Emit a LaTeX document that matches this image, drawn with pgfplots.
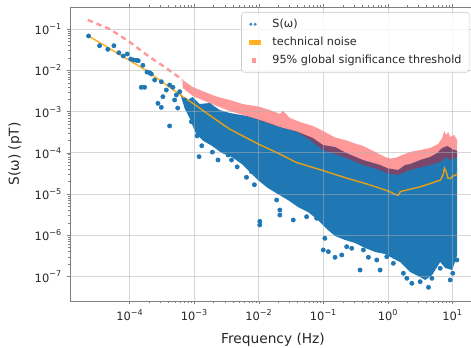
\documentclass[border=0pt]{standalone}
\usepackage{fontspec}
\setmainfont{DejaVu Sans}
\usepackage{pgfplots}
\pgfplotsset{compat=1.18}
\definecolor{mplblue}{HTML}{1F77B4}
\definecolor{mplorange}{HTML}{FFA500}
\definecolor{gridgray}{HTML}{B0B0B0}
\begin{document}
\begin{tikzpicture}
\begin{axis}[
  scale only axis, width=304.5pt, height=220.5pt,
  xmode=log, ymode=log,
  xmin=1.18e-5, xmax=23.1, ymin=2.57e-8, ymax=0.3475,
  xtick={1e-4,1e-3,1e-2,1e-1,1,10},
  xticklabels={10\textsuperscript{−4},10\textsuperscript{−3},10\textsuperscript{−2},10\textsuperscript{−1},10\textsuperscript{0},10\textsuperscript{1}},
  ytick={1e-7,1e-6,1e-5,1e-4,1e-3,1e-2,1e-1},
  yticklabels={10\textsuperscript{−7},10\textsuperscript{−6},10\textsuperscript{−5},10\textsuperscript{−4},10\textsuperscript{−3},10\textsuperscript{−2},10\textsuperscript{−1}},
  tick align=outside,
  major tick length=2.6pt, minor tick length=1.5pt,
  every tick/.style={black!50, line width=0.6pt},
  axis line style={black!50, line width=0.6pt},
  grid=major,
  major grid style={gridgray, opacity=0.5, line width=0.75pt},
  axis on top,
  ticklabel style={font=\fontsize{8.6}{10}\selectfont, text=black!85},
  label style={font=\fontsize{10.3}{12}\selectfont, text=black!85},
  xlabel={Frequency (Hz)}, ylabel={S(ω) (pT)},
  xlabel style={at={(axis description cs:0.5,-0.1327)}, anchor=center},
  ylabel style={at={(axis description cs:-0.1355,0.5)}, anchor=center},
  legend cell align=left,
  legend style={at={(1,1)}, anchor=north east, xshift=-5pt, yshift=-3.75pt,
    draw=black!20, rounded corners=2pt, fill=white, fill opacity=0.8, text opacity=1,
    font=\fontsize{8.4}{10}\selectfont, text=black!85,
    inner xsep=3.7pt, inner ysep=2.25pt,
    nodes={inner xsep=2pt, inner ysep=2.55pt, text height=6.4pt, text depth=2pt}},
]
% dense part of S(omega)
\addplot[draw=none, fill=mplblue, forget plot] coordinates {
(5.91e-4,3.01e-3) (7.33e-4,1.82e-3) (9.42e-4,2.28e-3) (1.21e-3,1.54e-3) (1.73e-3,1.63e-3)
(2.47e-3,1.1e-3) (3.53e-3,9.33e-4) (6.49e-3,7.89e-4) (1.15e-2,5.97e-4) (2.11e-2,4.27e-4)
(3.87e-2,3.32e-4) (6.87e-2,2.31e-4) (9.82e-2,1.56e-4) (0.151,1.4e-4) (0.232,9.8e-5)
(0.41,6.76e-5) (0.754,5.12e-5) (0.982,4.26e-5) (1.44,3.87e-5) (1.84,5.12e-5) (2.2,5.4e-5)
(3.15,6.76e-5) (4.5,8.0e-5) (5.8,1.0e-4) (6.92,1.32e-4) (8.28,1.48e-4) (9.9,1.25e-4) (11.8,1.12e-4)
(11.8,3.36e-7) (9.9,1.45e-7) (7.7,1.62e-7) (6.44,2.27e-7) (4.84,1.1e-7) (3.77,8.3e-8)
(2.93,1.04e-7) (2.2,1.3e-7) (1.54,2.27e-7) (1.16,2.84e-7) (0.902,3.55e-7) (0.631,3.97e-7)
(0.441,4.97e-7) (0.308,6.56e-7) (0.216,7.76e-7) (0.151,9.7e-7) (0.117,1.36e-6) (8.22e-2,2.37e-6)
(5.74e-2,3.71e-6) (4.02e-2,4.9e-6) (2.81e-2,7.24e-6) (1.96e-2,1.01e-5) (1.37e-2,1.42e-5)
(9.61e-3,2.21e-5) (7.23e-3,3.46e-5) (5.42e-3,5.4e-5) (3.79e-3,8.0e-5) (2.65e-3,1.0e-4)
(1.86e-3,1.5e-4) (1.35e-3,2.0e-4) (1.05e-3,3.0e-4) (8.45e-4,7.0e-4) (7.06e-4,1.2e-3)
};
% sparse points of S(omega)
\addplot[only marks, mark=*, mark size=1.6pt, color=mplblue,
  legend image code/.code={\path[draw=none,fill=none] (0pt,-2pt) rectangle (17.55pt,2pt);
    \fill[mplblue, draw=none] (3.4pt,0pt) circle (1.3pt); \fill[mplblue, draw=none] (6.6pt,0pt) circle (1.3pt);}]
coordinates {
(2.29e-5,6.89e-2) (3.39e-5,4.0e-2) (4.55e-5,3.27e-2) (5.65e-5,4.0e-2) (6.75e-5,2.7e-2)
(7.9e-5,2.25e-2) (9.1e-5,2.52e-2) (1.03e-4,1.9e-2) (1.14e-4,1.8e-2) (1.26e-4,1.77e-2)
(1.35e-4,1.73e-2) (1.59e-4,1.34e-2) (1.84e-4,9.2e-3) (2.02e-4,8.85e-3) (1.5e-4,3.92e-3)
(1.69e-4,3.92e-3) (2.15e-4,8.24e-3) (2.42e-4,5.89e-3) (2.72e-4,1.6e-3) (3.07e-4,1.28e-3)
(3.07e-4,5.36e-3) (3.25e-4,2.32e-3) (3.67e-4,3.37e-3) (4.13e-4,4.46e-3) (4.65e-4,3.92e-3)
(5.25e-4,2.55e-3) (5.91e-4,3.07e-3) (4.13e-4,4.52e-4) (4.94e-4,1.93e-3) (5.51e-4,1.23e-3)
(7.08e-4,1.93e-3) (8.98e-4,5.74e-4) (1.18e-3,8.13e-5) (1.57e-3,2.15e-4) (2.32e-3,1.88e-4)
(2.62e-3,1.37e-4) (2.32e-3,6.76e-5) (3.76e-3,6.76e-5) (3.33e-3,8.93e-5) (6.41e-3,2.57e-5)
(7.67e-3,3.52e-5) (1.03e-2,2.2e-6) (1.03e-2,1.8e-6) (1.88e-2,7.24e-6) (2.11e-2,4.14e-6)
(2.11e-2,3.13e-6) (3.4e-2,2.37e-6) (5.48e-2,2.85e-6) (7.84e-2,2.61e-6) (0.105,8.53e-7)
(9.93e-2,4.44e-7) (0.119,4.04e-7) (0.151,2.95e-7) (0.192,3.36e-7) (0.229,5.33e-7)
(0.274,4.88e-7) (0.369,1.45e-7) (0.415,4.44e-7) (0.497,2.95e-7) (0.67,2.54e-7)
(0.754,1.45e-7) (0.957,3.05e-7) (1.21,2.11e-7) (1.73,1.21e-7) (1.96,9.14e-8)
(2.34,6.91e-8) (3.15,7.55e-8) (4.24,5.52e-8) (4.79,9.14e-8) (6.44,1.6e-7)
(9.2,8.3e-8) (10.1,1.21e-7) (11.7,2.54e-7)
(1.1e-3,2.6e-4) (1.3e-3,1.5e-4) (1.9e-3,1.05e-4) (4.6e-3,4.6e-5) (8.5e-3,1.7e-5)
};
\addlegendentry{S(ω)}
% technical noise
\addplot[mplorange, opacity=0.85, line width=1.1pt,
  legend image code/.code={\path[draw=none,fill=none] (0pt,-2pt) rectangle (17.55pt,2pt);
    \fill[mplorange, draw=none, sharp corners] (2.3pt,-1.9pt) rectangle (11.05pt,1.9pt);}]
coordinates {
(2.29e-5,6.89e-2) (1.8e-4,1.0e-2) (5.89e-4,2.63e-3) (1.0e-3,1.51e-3) (1.95e-3,7.16e-4)
(3.55e-3,3.76e-4) (1.0e-2,1.62e-4) (2.14e-2,9.33e-5) (3.8e-2,5.89e-5) (0.1,3.72e-5)
(0.229,2.45e-5) (0.468,1.78e-5) (1.0,1.2e-5) (1.3,9.8e-6) (1.45,9.5e-6) (1.55,1.15e-5)
(1.7,1.2e-5) (3.16,1.51e-5) (6.46,2.19e-5) (7.08,2.82e-5) (7.5,4.27e-5) (7.94,3.55e-5)
(8.5,2.45e-5) (9.3,2.4e-5) (10,2.75e-5) (11,2.88e-5) (11.9,3.16e-5)
};
\addlegendentry{technical noise}
% threshold, low frequencies
\addplot[red, opacity=0.4, line width=1.8pt, dash pattern=on 4pt off 3pt, forget plot]
coordinates {
(2.23e-5,1.68e-1) (4.84e-5,1.02e-1) (9.9e-5,4.92e-2) (2.02e-4,2.13e-2) (3.46e-4,1.22e-2) (6.58e-4,5.89e-3)
};
% threshold band
\addplot[draw=none, fill=red, fill opacity=0.4,
  legend image code/.code={\path[draw=none,fill=none] (0pt,-2pt) rectangle (17.55pt,2pt);
    \fill[red, draw=none, fill opacity=0.4, sharp corners] (4.05pt,-1.7pt) rectangle (7.4pt,1.7pt);}]
coordinates {
(6.58e-4,5.89e-3) (9.42e-4,3.98e-3) (1.21e-3,3.37e-3) (1.73e-3,2.7e-3) (2.22e-3,2.32e-3)
(3.53e-3,1.93e-3) (5.62e-3,1.54e-3) (9.95e-3,1.33e-3) (1.48e-2,1.1e-3) (2.11e-2,8.83e-4)
(2.35e-2,1.06e-3) (3.02e-2,7.06e-4) (4.32e-2,5.65e-4) (6.87e-2,4.52e-4) (9.82e-2,3.42e-4)
(0.151,2.38e-4) (0.216,2.07e-4) (0.308,1.7e-4) (0.41,1.48e-4) (0.631,1.06e-4) (0.902,8.0e-5)
(1.08,7.35e-5) (1.29,7.56e-5) (1.54,8.45e-5) (2.2,1.06e-4) (3.15,1.18e-4) (4.5,1.32e-4)
(6.0,1.65e-4) (6.92,2.31e-4) (7.43,3.41e-4) (7.98,2.73e-4) (8.57,3.23e-4) (9.2,2.44e-4)
(10.6,2.73e-4) (11.8,2.07e-4)
(11.8,8.0e-5) (9.2,6.76e-5) (7.98,8.0e-5) (6.44,6.04e-5) (4.5,5.12e-5) (2.2,3.87e-5)
(1.44,2.93e-5) (0.982,3.21e-5) (0.754,3.87e-5) (0.41,5.12e-5) (0.232,7.43e-5) (9.82e-2,1.18e-4)
(6.17e-2,2.07e-4) (3.87e-2,3.28e-4) (2.35e-2,4.05e-4) (1.48e-2,5.06e-4) (9.95e-3,6.31e-4)
(7.23e-3,7.46e-4) (3.53e-3,1.04e-3) (2.22e-3,1.38e-3) (1.45e-3,1.82e-3) (9.42e-4,2.41e-3)
(6.58e-4,3.77e-3)
};
\addlegendentry{95\% global significance threshold}
\end{axis}
\pgfresetboundingbox
\path (-52.5pt,-35.25pt) rectangle (300.75pt,225.75pt);
\end{tikzpicture}
\end{document}
